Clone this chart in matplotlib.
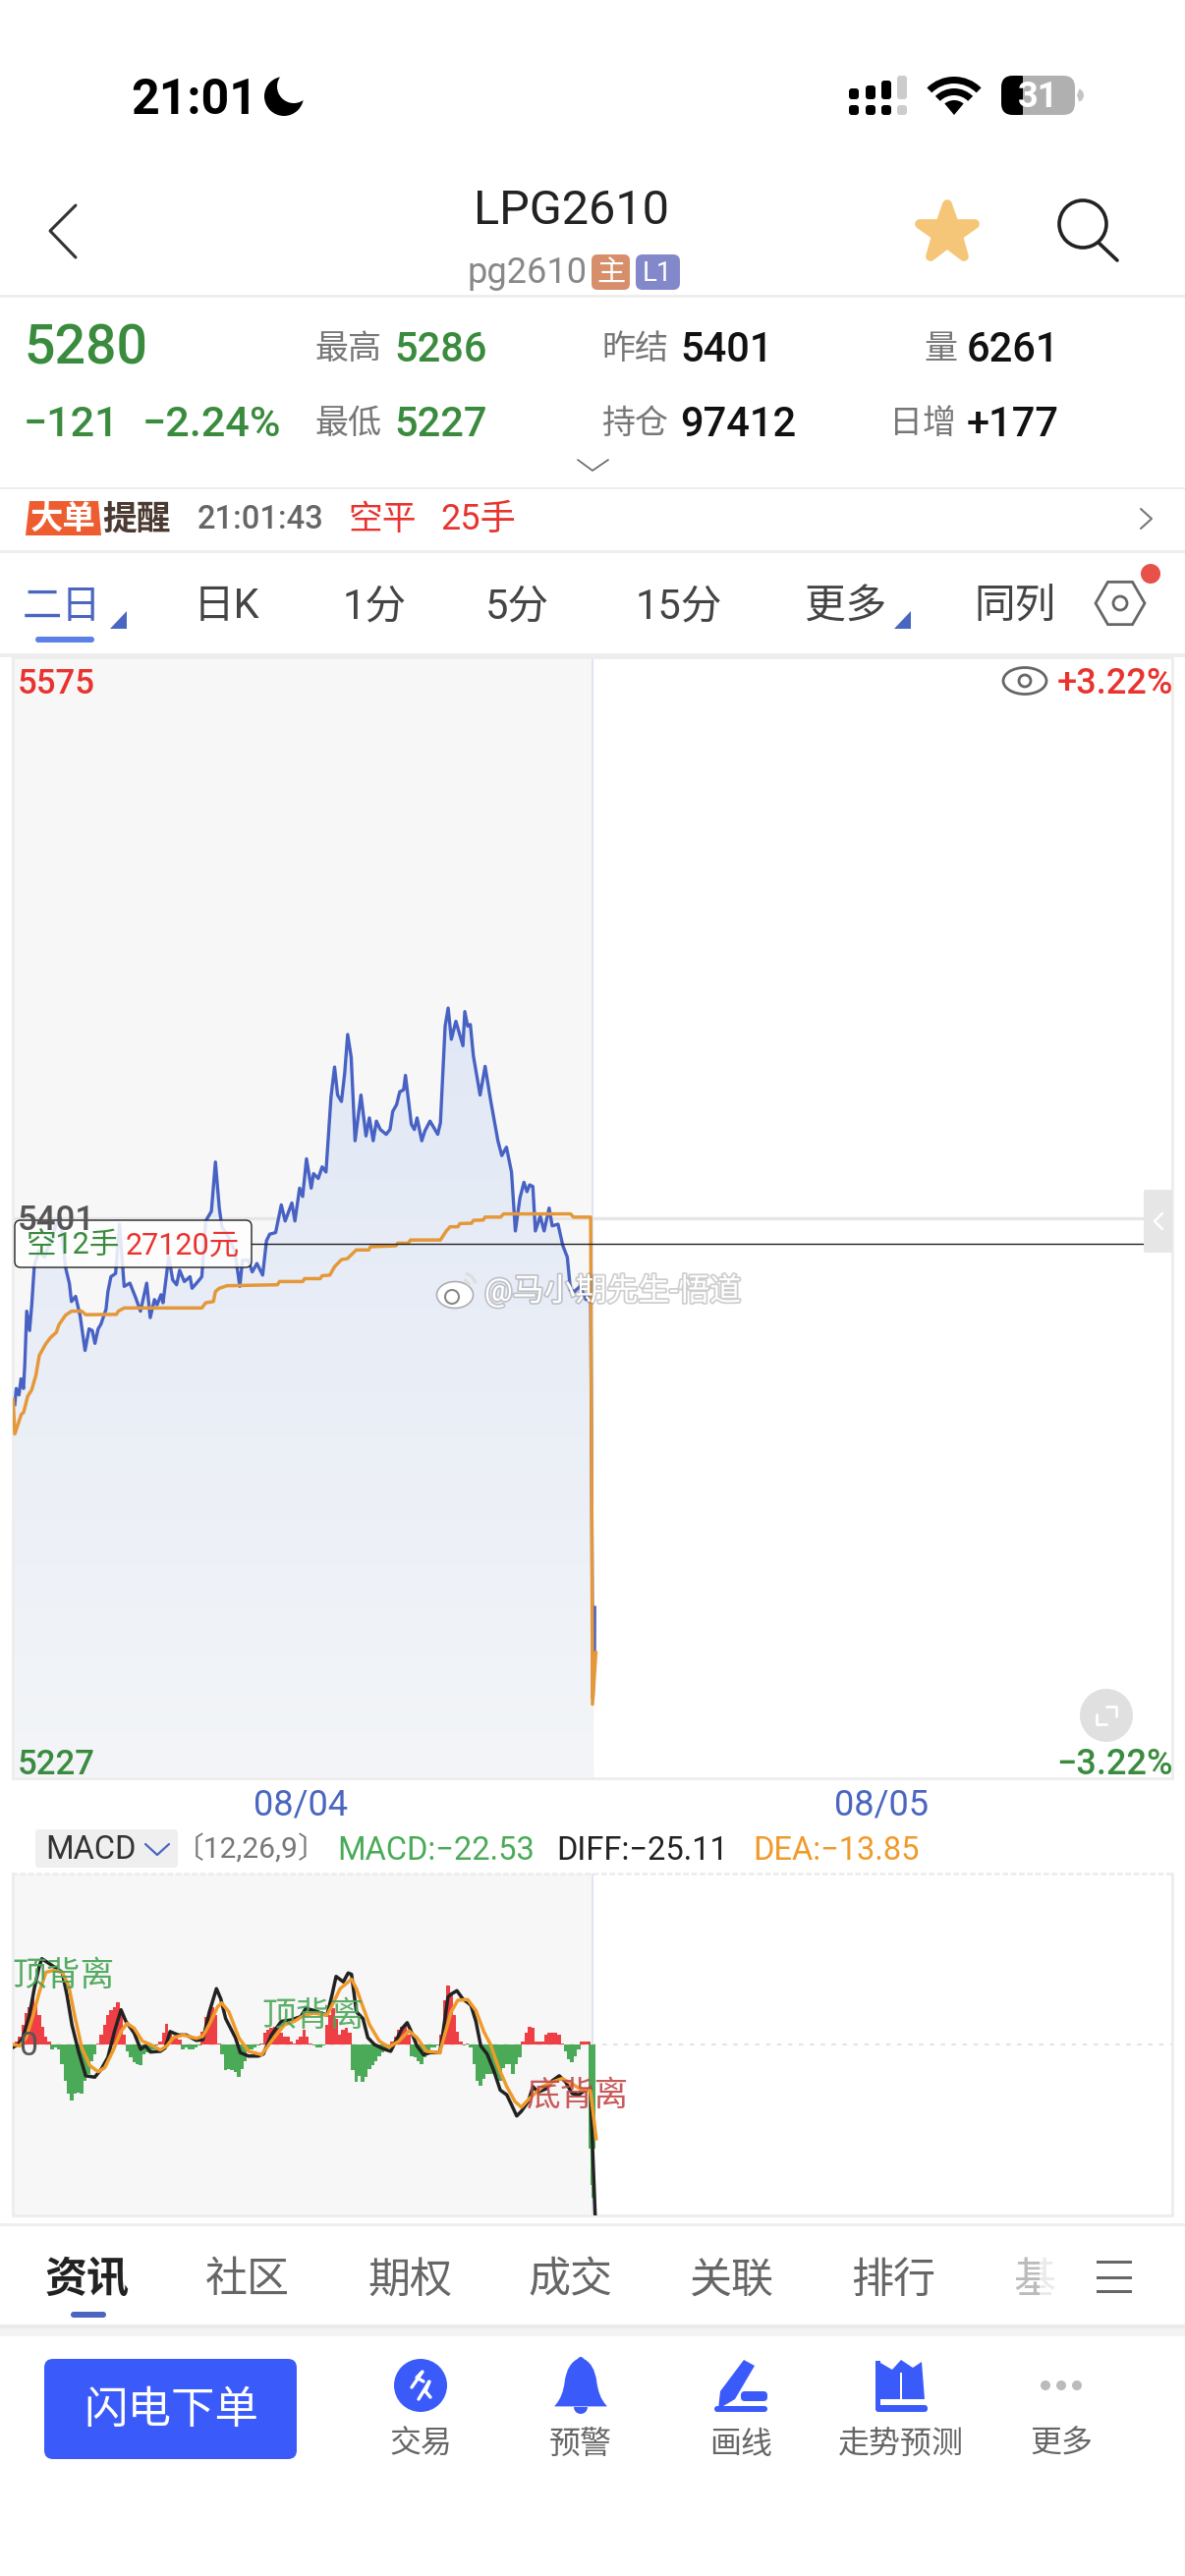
#! /usr/bin/env python
# -*- coding:utf-8 -*-
# LPG2610 two day chart screen, ui is drawn in pixel coords, chart in price/minute coords
import numpy as np
import matplotlib
matplotlib.use('Agg')
import matplotlib.pyplot as plt
import matplotlib.patheffects as pe
from matplotlib.markers import MarkerStyle
from matplotlib.patches import Circle, Ellipse, FancyBboxPatch, Polygon, Rectangle, Wedge, RegularPolygon
from matplotlib.path import Path
from matplotlib.patches import PathPatch

plt.rcParams['font.family'] = ['Roboto', 'Noto Sans CJK SC', 'DejaVu Sans']

W, H = 1206, 2622
GREEN = '#3A8B3E'
RED = '#E8332F'
BLUE = '#4A66C0'
GREY = '#777777'

# minutes since session start, two sessions of 345 minutes
session_len = 345
price_low, price_high = 5227, 5575
prev_settle = 5401
position_price = 5393

price_x = [1.2, 2.1, 3.7, 4.9, 6.4, 7.2, 8.3, 10, 11.3, 12.8, 15.5, 18.9, 22.4, 25.9, 28.2, 30.5, 31.3, 33.7, 34.9, 37.4,
           40.1, 40.9, 43, 45.4, 47.3, 48.9, 50.8, 52.5, 55.5, 56.6, 58.4, 61.2, 63.5, 66.3, 69.7, 73.2, 76, 79.7, 81.8,
           84.3, 85.9, 88.2, 89.4, 92.8, 95.2, 97.5, 99.3, 102.1, 105.5, 106.7, 110.2, 112.5, 114.8, 118.2, 120.6, 122.9,
           124.5, 127.5, 132.1, 135.1, 136.7, 140.2, 142.5, 145.3, 148.7, 151, 152.9, 156.4, 159.8, 162.1, 166.1, 167.9,
           170.7, 172.5, 174.8, 177.6, 179, 181.8, 184.1, 186.4, 189.4, 191.5, 193.3, 195.6, 197.5, 199.3, 201.4, 203.7,
           207.2, 210.2, 212.2, 214.5, 216.4, 218.7, 222.2, 224.5, 226.1, 228.4, 230.3, 232.6, 233.7, 237.2, 239, 240.6,
           243.4, 245.3, 248.3, 252.9, 254.5, 257.3, 259.1, 261, 263.7, 267.9, 269, 270.7, 272.3, 274.1, 278.1, 281.1,
           284.5, 288.7, 291, 293.8, 296.8, 299.1, 301.8, 304.2, 306, 307.6, 309.5, 311, 313.9, 316.2, 319.2, 321, 324.5,
           327.3, 330, 331.9, 334.2, 337.6, 341.1, 343.9, 345.2, 346.2, 346.3]
price_y = [5343, 5348, 5346, 5351, 5348, 5356, 5372, 5366, 5374, 5386, 5390.8, 5388.8, 5393.9, 5399, 5401, 5390.8, 5385.8,
           5380.6, 5375, 5376.6, 5370.5, 5367.5, 5359.8, 5366.5, 5366, 5362, 5366.5, 5368, 5372.6, 5378, 5382.7, 5383.7,
           5399, 5379.7, 5380.7, 5376.1, 5372, 5380.7, 5370, 5375.6, 5374, 5377.1, 5374.6, 5388.8, 5381.7, 5380.2, 5384.7,
           5381.2, 5382.7, 5379.1, 5381.2, 5382.7, 5400, 5403, 5418.3, 5404, 5398, 5395.9, 5390.8, 5379.7, 5387.8, 5387.8,
           5384.2, 5386.8, 5383.2, 5393.9, 5395.9, 5396.4, 5405, 5400, 5405.6, 5400, 5410.2, 5407.6, 5419.3, 5410.2, 5414.7,
           5413.2, 5416.8, 5415.2, 5438.6, 5447.8, 5439.1, 5437.1, 5445.7, 5457.9, 5450.8, 5424.9, 5439.1, 5426.4, 5432,
           5424.9, 5431, 5428.4, 5426.9, 5428.4, 5434, 5436.1, 5440.1, 5440.7, 5445.2, 5430, 5428.4, 5432, 5424.9, 5428,
           5431, 5426.9, 5430.5, 5460.5, 5466.1, 5456.4, 5462, 5454.4, 5465, 5460.5, 5461, 5451.3, 5439.1, 5448, 5437.1,
           5424.9, 5420.3, 5422.9, 5415.2, 5396.9, 5407.1, 5412, 5409.1, 5411.2, 5410.7, 5396.9, 5401.5, 5396.9, 5404,
           5398.5, 5399, 5392.4, 5388.8, 5378.6, 5378.1, 5379.7, 5375.6, 5378.6, 5252, 5266, 5280]

avg_x = [0.2, 1.2, 5.1, 6.4, 8.9, 11.3, 13.8, 15.8, 19.7, 22.6, 25.9, 27.4, 31.3, 34.9, 41, 43.4, 61.7, 62.8, 66.3, 112.5,
         114.8, 119.4, 120.6, 122.9, 127.5, 157.5, 158.7, 172.5, 173.7, 182.9, 184.1, 188.7, 191.5, 195.6, 199.1, 204.4,
         211.8, 212.9, 228, 229.1, 235.3, 236.7, 254.5, 258, 260.3, 264.9, 266.1, 273, 274.1, 279.9, 281.1, 290.3, 292.1,
         331.9, 333.7, 343.9, 345, 347]
avg_y = [5344.6, 5333.9, 5340, 5340.5, 5345.6, 5347.6, 5352.2, 5358.3, 5361.9, 5363.9, 5365.4, 5367.7, 5370.7, 5372, 5372,
         5370.9, 5371, 5372, 5373, 5373, 5374.6, 5375, 5378.1, 5379.1, 5379.9, 5380.2, 5381.2, 5381.2, 5382.1, 5382.1,
         5383, 5383.2, 5385.8, 5388, 5388.3, 5391, 5391, 5392, 5392.3, 5393.1, 5393.1, 5394.1, 5394.1, 5396.9, 5398.2,
         5398.2, 5399.2, 5399.3, 5400.2, 5400.3, 5401.2, 5401.2, 5402.2, 5402.2, 5401.2, 5401.2, 5250, 5266]

macd_limit = 25.11
diff_x = [0.2, 3.1, 6, 9.9, 12.8, 15.8, 17.3, 21.6, 29.4, 32.3, 35.2, 39.1, 43.4, 48.8, 52.7, 56.6, 60.5, 64.4, 67.3, 72.2,
          76.1, 79, 81.9, 87.8, 90.7, 93.6, 98.5, 103.3, 109.2, 113.1, 117, 121.2, 123.8, 126.7, 132.5, 135.4, 140.3, 146.1,
          149.1, 153.9, 159.8, 165.6, 171.4, 174.4, 179.2, 187, 189.9, 192.4, 196.7, 199.6, 201.6, 204.5, 208.4, 211.3,
          215.2, 220.1, 224.9, 227.9, 231.8, 234.7, 236.6, 240.5, 244.4, 248.3, 254.1, 256.1, 259, 260.9, 264.3, 267.8,
          272.6, 275.6, 278.5, 282.3, 286.2, 290.1, 294, 296.9, 299.9, 302.7, 306.7, 309.6, 312.5, 317.4, 321.2, 325.2,
          329, 332.9, 336.8, 340.7, 343.7, 346.6]
diff_y = [-0.4, 0, 1, 4.3, 8.2, 11.5, 12.6, 11.9, 10.6, 7.2, 2.9, -1, -4.6, -4.8, -3.6, -1.9, 1.9, 5.1, 3.4, 1.7, -0.7, -0.2,
          -1.1, -1, -0.5, 1.9, 1.4, 1.4, 0.6, 0.7, 4.8, 8.2, 6.7, 3.8, 1, -1.2, -1.7, -1.7, -1.4, 1.4, 3.4, 3.6, 4.1, 5.3, 5,
          4.3, 7.2, 10, 9.2, 10.5, 10.3, 4.8, 3.8, 1, 0, -0.6, -1, 0.5, 2.4, 3.2, 2.2, -0.2, -1.5, -1.2, -1.2, 1.9, 7, 7.4,
          7.9, 6.7, 5.8, 3.4, -0.2, -1.4, -3.8, -6.7, -7.4, -8.9, -10.5, -9.8, -8.4, -6.2, -7, -6.5, -5.3, -4.6, -5.5, -7.2,
          -7.4, -6.7, -6.5, -25.11]
dea_x = [0.2, 4.1, 8, 11.9, 15.8, 19.7, 24.5, 29.4, 33.3, 37.2, 41.1, 45.9, 50.8, 54.7, 59.5, 64.4, 67.9, 72.2, 77.1, 81.9,
         87.8, 91.7, 95.5, 101.4, 109.2, 113.1, 117.9, 121.8, 124.3, 128.6, 134.5, 140.3, 148.1, 153.9, 161.7, 167.5, 173.4,
         179.2, 187, 190.9, 194.8, 201.6, 204.5, 208.4, 212.3, 218.1, 223.9, 229.8, 235.7, 240.5, 246.3, 254.1, 257, 260.9,
         264.8, 270.7, 275.6, 280.3, 284.3, 289.1, 294, 298.9, 302.7, 307.6, 315.3, 321.2, 327, 332.9, 338.7, 343.7, 347.2]
dea_y = [0, -0.2, 1, 4.1, 7.7, 10.6, 10.9, 10.6, 8.6, 3.8, -0.5, -3.1, -4, -3.4, -1, 1.9, 3.1, 2.4, 0.5, 0, -0.8, -0.2, 1,
         1.4, 0.9, 1.2, 3.4, 5.5, 6.1, 4.8, 1, -1, -1.5, 0.5, 2.9, 3.4, 4.3, 4.6, 4.3, 6.2, 8.2, 9.6, 8.2, 5.5, 2.9, 0.5,
         -0.4, 0.5, 2, 1, -1, -1.2, 1.4, 4.8, 6.5, 6.6, 5, 1.9, 0, -3.4, -6.2, -8.4, -9.2, -7.9, -6.2, -5.5, -5, -5.8, -6.7,
         -6.7, -13.85]
hist_vals = [-1, .5, 1.2, 2.9, 4.6, 5.5, 7.2, 5.8, 4.3, 2.6, 1.2, .5, -.7, -.4, -.7, -2.9, -5.3, -7.2, -8.2, -7.2, -7, -7.2,
             -5.3, -4.3, -2.4, -1.4, .2, 1.4, 2.9, 4.3, 5, 5.5, 6.2, 5, 1.4, -1, -1.9, -2.6, -2.9, -3.1, -1.4, -1.2, -1, -.7,
             -.2, .5, 1.7, 3.1, 1.7, 1.2, 1, .7, -.7, -.5, -.7, -.7, -.5, -.2, 1.9, 4.1, 4.3, 5.5, 4.3, .2, -1.4, -3.8, -3.6,
             -3.8, -4.1, -4.8, -3.6, -2.4, -.7, -.7, -.5, -.2, .2, 1.7, 2.2, 2.4, 2.6, 2.4, 1.7, 1.2, 1.2, .5, .2, .7, 1.2,
             2.2, 1.2, .2, -.2, -.5, -.5, -.2, 2.9, 4.3, 5.3, 3.8, 1.4, 2.2, 2.4, 1.7,
             -3.8, -5.5, -4.6, -5.5, -4.8, -3.6, -3.1, -2.4, -1.7, -1.2, -.7, -.2, .5, 1.2, 2.2, 2.6, 2.9, 1.4, -1.7, -1.9,
             -2.4, -2.9, -1.9, -1, -.5, -.5, -.2, 1.4, 6.5, 8.6, 7.2, 4.3, 1.9, .5, -.2, .2, -.5, -2.9, -5.3, -6, -5, -4.3,
             -4.3, -4.3, -4.8, -5.3, -3.4, -2.9, -2.9, -4.3, -2.9, -1.9, .5, 1.7, 2.6, 2.4, .5, .5, .5, 1.4, 1.7, 1.7, 1.7,
             1.4, .2, -1, -2.2, -2.6, -1.7, -.7, .5, .5, .5]
hist_end_x = [343.2, 344.2, 345.2, 346.2]
hist_end_vals = [-15.3, -20.6, -22.53, -15.3]

row1_labels = ['最高', '昨结', '量']
row2_labels = ['最低', '持仓', '日增']
tabs = ['日K', '1分', '5分', '15分', '更多', '同列']
bottom_tabs = ['社区', '期权', '成交', '关联', '排行']
tool_labels = ['交易', '预警', '画线', '走势预测', '更多']


fig = plt.figure(figsize=(W / 100, H / 100), dpi=100, facecolor='white')


def px_axes(z):
    ax = fig.add_axes([0, 0, 1, 1], zorder=z)
    ax.set_xlim(0, W)
    ax.set_ylim(H, 0)
    ax.axis('off')
    ax.patch.set_alpha(0)
    return ax


def chart_axes(left, right, top, bottom, z):
    ax = fig.add_axes([left / W, 1 - bottom / H, (right - left) / W, (bottom - top) / H], zorder=z)
    ax.set_xticks([])
    ax.set_yticks([])
    for s in ax.spines.values():
        s.set_color('#EDEDED')
        s.set_linewidth(2)
    return ax


ui = px_axes(0)
top = px_axes(5)


def txt(ax, x, y, s, size, color='#222222', ha='left', weight='normal', **kw):
    # text sits a little high with va center
    return ax.text(x, y + 6, s, fontsize=size, color=color, ha=ha, va='center', fontweight=weight, **kw)


def hline(y, lw, color='#EEEEEE'):
    ui.add_patch(Rectangle((0, y - lw / 2), W, lw, color=color, lw=0))


def stroke(ax, xs, ys, color, lw, **kw):
    ax.plot(xs, ys, color=color, lw=lw, solid_capstyle='round', solid_joinstyle='round', **kw)


def rbox(ax, x0, y0, x1, y1, r, color, **kw):
    ax.add_patch(FancyBboxPatch((x0 + r, y0 + r), x1 - x0 - 2 * r, y1 - y0 - 2 * r,
                                boxstyle='round,pad=%f,rounding_size=%f' % (r, r), fc=color, ec='none', **kw))


# status bar
txt(ui, 133, 96, '21:01', 36, '#000000', weight='bold')
ui.add_patch(Circle((289, 98), 20, color='black', lw=0))
ui.add_patch(Circle((299, 88), 17, color='white', lw=0))
for i, (cx, up) in enumerate(zip([869, 886, 902, 918], [90, 87, 82, 77])):
    col = '#000000' if i < 3 else '#CCCCCC'
    rbox(ui, cx - 5, up, cx + 5, 101, 3, col)
    rbox(ui, cx - 5, 107, cx + 5, 117, 3, col)
ui.add_patch(Wedge((971, 117), 15, 230, 310, color='black', lw=0))
ui.add_patch(Wedge((971, 117), 27, 225, 315, width=7, color='black', lw=0))
ui.add_patch(Wedge((971, 117), 39, 225, 315, width=7, color='black', lw=0))
rbox(ui, 1019, 77, 1094, 117, 12, '#B0B0B0')
rbox(ui, 1019, 77, 1050, 117, 12, '#000000')
ui.add_patch(Rectangle((1041, 77), 14, 40, color='#B0B0B0', lw=0))
ui.add_patch(Wedge((1096, 97), 7, -70, 70, color='#C4C4C4', lw=0))
txt(ui, 1057, 93, '31', 26, 'white', ha='center', weight='bold', zorder=3)

# title bar
stroke(ui, [77, 51, 77], [209, 235, 262], '#333333', 2.2)
txt(ui, 582, 209, 'LPG2610', 35, '#222222', ha='center')
txt(ui, 475, 272, 'pg2610', 26, '#888888')
rbox(ui, 602, 259, 641, 295, 6, '#D68F6A')
txt(ui, 621.5, 272, '主', 21, 'white', ha='center')
rbox(ui, 647, 259, 692, 295, 7, '#8288C9')
txt(ui, 669.5, 272, 'L1', 20, 'white', ha='center')
ui.plot([964], [237], marker=MarkerStyle('*', joinstyle='round'), ms=42, mec='#F5C678', mew=7, mfc='#F5C678')
ui.add_patch(Circle((1102, 228), 24, fc='none', ec='#222222', lw=2.6))
stroke(ui, [1118, 1137], [247, 265], '#222222', 2.6)
hline(301, 3)

# quote block
txt(ui, 24, 349, '5280', 40, GREEN, weight='medium')
for x, s in zip([320, 612, 940], row1_labels):
    txt(ui, x, 350, s, 24.5, GREY)
txt(ui, 401, 350, '5286', 30, GREEN, weight='medium')
txt(ui, 692, 350, '5401', 30, '#111111', weight='medium')
txt(ui, 984, 350, '6261', 30, '#111111', weight='medium')
txt(ui, 24, 426, '−121', 31, GREEN, weight='medium')
txt(ui, 145, 426, '−2.24%', 31, GREEN, weight='medium')
for x, s in zip([320, 612, 905], row2_labels):
    txt(ui, x, 426, s, 24.5, GREY)
txt(ui, 401, 426, '5227', 30, GREEN, weight='medium')
txt(ui, 692, 426, '97412', 30, '#111111', weight='medium')
txt(ui, 984, 426, '+177', 30, '#111111', weight='medium')
stroke(ui, [588, 603, 619], [468, 479, 468], '#666666', 1.2)
hline(497, 2)

# big order strip
ui.add_patch(Polygon([[30, 510], [100, 510], [103, 545], [26, 545]], closed=True, color='#EE5D30', lw=0))
txt(ui, 64, 523, '大单', 24, 'white', ha='center', weight='bold')
txt(ui, 104, 523, '提醒', 25, '#4A3A32', weight='bold', style='italic')
txt(ui, 201, 523, '21:01:43', 23.5, '#666666', weight='medium')
txt(ui, 354, 523, '空平', 25, RED)
txt(ui, 448, 523, '25手', 26, RED)
stroke(ui, [1161, 1172, 1161], [518, 528, 538], '#777777', 1.5)
hline(561, 3)

# period tabs
txt(ui, 23, 612, '二日', 29, BLUE)
ui.add_patch(Polygon([[129, 622], [129, 640], [112, 640]], closed=True, color=BLUE, lw=0))
rbox(ui, 36, 648, 96, 654, 3, '#5B80E8')
for x, s in zip([197, 349, 494, 647, 819, 991], tabs):
    txt(ui, x, 612, s, 30, '#444444')
ui.add_patch(Polygon([[927, 622], [927, 640], [910, 640]], closed=True, color=BLUE, lw=0))
ui.add_patch(RegularPolygon((1140, 614), 6, radius=25, orientation=np.pi / 6, fc='none', ec='#666666', lw=2))
ui.add_patch(Circle((1140, 614), 7, fc='none', ec='#666666', lw=2))
ui.add_patch(Circle((1171, 584), 10, color='#E8504A', lw=0))
hline(667, 4)

# price chart
ax = chart_axes(13, 1193, 669, 1810, 1)
ax.set_xlim(0, session_len * 2)
ax.set_ylim(price_low, price_high)
ax.axvspan(0, session_len, color='#F7F7F7', lw=0, zorder=0)
ax.axvline(session_len, color='#E0E5F4', lw=1.5, zorder=1)
ax.axhline(prev_settle, color='#E6E6E6', lw=2.4, zorder=1)
grad = np.linspace(0, 1, 256).reshape(-1, 1)
cols = np.zeros((256, 1, 3))
for k, (a, b) in enumerate(zip((0xE1, 0xE8, 0xF5), (0xF3, 0xF5, 0xF8))):
    cols[:, :, k] = (a + (b - a) * grad) / 255
img = ax.imshow(cols, extent=(0, session_len + 1, price_low, max(price_y)), aspect='auto', zorder=2)
clip = Polygon(np.column_stack([[price_x[0]] + price_x[:-3] + [session_len + 0.5, session_len + 0.5, 0, 0],
                                [price_y[0]] + price_y[:-3] + [price_y[-4], price_low, price_low, price_y[0]]]),
               closed=True, transform=ax.transData, fc='none', ec='none')
ax.add_patch(clip)
img.set_clip_path(clip)
ax.set_xlim(0, session_len * 2)
ax.set_ylim(price_low, price_high)
ax.plot(price_x, price_y, color='#4862C4', lw=2.4, zorder=3, solid_joinstyle='round')
ax.plot(avg_x, avg_y, color='#E5983A', lw=2.5, zorder=4, solid_joinstyle='round')
ax.plot([142, 676], [position_price, position_price], color='#222222', lw=1, zorder=5)

# macd chart
mx = chart_axes(13, 1193, 1907, 2255, 1)
mx.set_xlim(0, session_len * 2)
mx.set_ylim(-macd_limit, macd_limit)
mx.axvspan(0, session_len, color='#F7F7F7', lw=0, zorder=0)
mx.axvline(session_len, color='#E0E5F4', lw=1.5, zorder=1)
mx.axhline(0, color='#E4E4E4', lw=1.6, ls=(0, (2, 3)), zorder=1)
mx.spines['top'].set_linestyle((0, (1, 2)))
hist_x = np.linspace(0.2, 342.5, len(hist_vals))
hist_w = (hist_x[1] - hist_x[0]) * 1.08
vals = np.array(hist_vals)
mx.bar(hist_x, vals, width=hist_w, color=['#EE3F45' if v > 0 else '#4BAA58' for v in vals], lw=0, zorder=2)
mx.bar(hist_end_x, hist_end_vals, width=1.0, color='#4BAA58', lw=0, zorder=2)
mx.plot(diff_x, diff_y, color='#222222', lw=2.5, zorder=3, solid_joinstyle='round')
mx.plot(dea_x, dea_y, color='#F09A2A', lw=2.5, zorder=4, solid_joinstyle='round')

# chart overlays
txt(top, 18, 690, '5575', 25, RED, weight='medium')
txt(top, 18, 1791, '5227', 25, GREEN, weight='medium')
txt(top, 18, 1236, '5401', 25, '#555555', weight='medium')
txt(top, 1194, 690, '+3.22%', 26, RED, ha='right', weight='medium')
txt(top, 1194, 1791, '−3.22%', 26, GREEN, ha='right', weight='medium')
top.add_patch(Ellipse((1043, 693), 44, 27, fc='none', ec='#666666', lw=2))
top.add_patch(Circle((1043, 693), 6, fc='none', ec='#666666', lw=2))
top.add_patch(Circle((1126, 1746), 27, color='#E0E0E0', lw=0))
stroke(top, [1116, 1116, 1126], [1745, 1755, 1755], 'white', 2)
stroke(top, [1126, 1136, 1136], [1737, 1737, 1747], 'white', 2)
rbox(top, 1164, 1211, 1193, 1275, 2, '#E6E6E6')
stroke(top, [1183, 1175, 1183], [1235, 1243, 1251], 'white', 1.8)
top.add_patch(FancyBboxPatch((20, 1247), 231, 38, boxstyle='round,pad=5,rounding_size=6', fc=(1, 1, 1, 0.85),
                             ec='#222222', lw=1))
txt(top, 27, 1262, '空12手', 22, GREEN)
txt(top, 128, 1262, '27120元', 22, RED)

# watermark
halo = [pe.withStroke(linewidth=2.5, foreground=(0.45, 0.45, 0.45, 0.35))]
wm = txt(top, 493, 1307, '@马小期先生-悟道', 23, 'white')
wm.set_path_effects(halo)
logo = Ellipse((463, 1318), 37, 27, fc='white', ec=(0.5, 0.5, 0.5, 0.6), lw=1.2)
top.add_patch(logo)
top.add_patch(Circle((460, 1320), 7, fc='none', ec='#888888', lw=1.5))
top.add_patch(Wedge((470, 1310), 16, 285, 345, width=3, color='#DDDDDD', lw=0))
top.add_patch(Wedge((470, 1310), 9, 285, 345, width=3, color='#DDDDDD', lw=0))

# dates and macd legend
txt(ui, 306, 1832, '08/04', 26, BLUE, ha='center')
txt(ui, 897, 1832, '08/05', 26, BLUE, ha='center')
rbox(ui, 36, 1862, 181, 1901, 4, '#EFEFEF')
txt(ui, 46, 1877, 'MACD', 23.5, '#333333')
stroke(ui, [148, 160, 172], [1877, 1888, 1877], BLUE, 1.6)
txt(ui, 178, 1877, '〔12,26,9〕', 21.5, '#777777')
txt(ui, 343, 1878, 'MACD:−22.53', 23.5, '#4BAA58')
txt(ui, 566, 1878, 'DIFF:−25.11', 23.5, '#222222')
txt(ui, 766, 1878, 'DEA:−13.85', 23.5, '#F09A2A')

txt(top, 12, 2005, '顶背离', 25, '#4CA65A', alpha=0.95)
txt(top, 266, 2046, '顶背离', 25, '#4CA65A', alpha=0.9)
txt(top, 536, 2127, '底背离', 25, '#C24848', alpha=0.9)
txt(top, 19, 2077, '0', 24.5, '#555555')

# bottom tabs
hline(2264, 3)
txt(ui, 46, 2316, '资讯', 31, '#222222', weight='bold')
rbox(ui, 72, 2353, 108, 2359, 3, BLUE)
for x, s in zip([209, 374, 537, 702, 866], bottom_tabs):
    txt(ui, x, 2316, s, 31, '#666666')
txt(ui, 1031, 2316, '基', 31, '#BBBBBB')
ui.add_patch(Rectangle((1058, 2295), 26, 46, color='white', alpha=0.7, lw=0, zorder=3))
for y in [2302, 2318, 2332]:
    ui.add_patch(Rectangle((1116, y - 1.5), 36, 3, color='#666666', lw=0))
ui.add_patch(Rectangle((0, 2366), W, 4, color='#EBEBEB', lw=0))
ui.add_patch(Rectangle((0, 2370), W, 8, color='#F3F3F3', lw=0))

# bottom toolbar
TOOL = '#3A5BFA'
rbox(ui, 45, 2401, 302, 2503, 9, TOOL)
txt(ui, 174, 2448, '闪电下单', 32, 'white', ha='center')
for x, s in zip([428, 591, 754, 917, 1080], tool_labels):
    txt(ui, x, 2482, s, 23, '#666666', ha='center')
ui.add_patch(Circle((428, 2428), 27, color=TOOL, lw=0))
stroke(ui, [419, 430, 424, 431], [2430, 2414, 2420, 2424], 'white', 2.4)
stroke(ui, [426, 437, 433, 438], [2442, 2424, 2434, 2440], 'white', 2.4)
bell = Path([(591, 2401), (578, 2406), (576, 2425), (574, 2440), (567, 2448), (615, 2448), (608, 2440), (606, 2425),
             (604, 2406), (591, 2401)],
            [Path.MOVETO, Path.CURVE3, Path.CURVE3, Path.CURVE3, Path.LINETO, Path.LINETO, Path.CURVE3, Path.CURVE3,
             Path.CURVE3, Path.CURVE3])
ui.add_patch(PathPatch(bell, fc=TOOL, ec=TOOL, lw=2))
ui.add_patch(Wedge((591, 2450), 7, 0, 180, color=TOOL, lw=0))
ui.add_patch(Circle((591, 2402), 3, color=TOOL, lw=0))
ui.add_patch(Polygon([[757, 2402], [768, 2408], [748, 2442], [731, 2452], [733, 2434]], closed=True, color=TOOL, lw=0))
rbox(ui, 754, 2434, 781, 2444, 4, TOOL)
rbox(ui, 727, 2449, 781, 2455, 3, TOOL)
ui.add_patch(Polygon([[896, 2405], [908, 2412], [917, 2402], [929, 2410], [938, 2404], [941, 2442], [896, 2442]],
                     closed=True, color=TOOL, lw=0))
ui.add_patch(Rectangle((916, 2415), 2, 28, color='white', lw=0))
rbox(ui, 891, 2448, 944, 2455, 3, TOOL)
ui.add_patch(Rectangle((891, 2403), 5, 50, color=TOOL, lw=0))
for x in [1064, 1080, 1096]:
    ui.add_patch(Circle((x, 2428), 5, color='#BBBBBB', lw=0))

fig.savefig('out.png', dpi=100)
